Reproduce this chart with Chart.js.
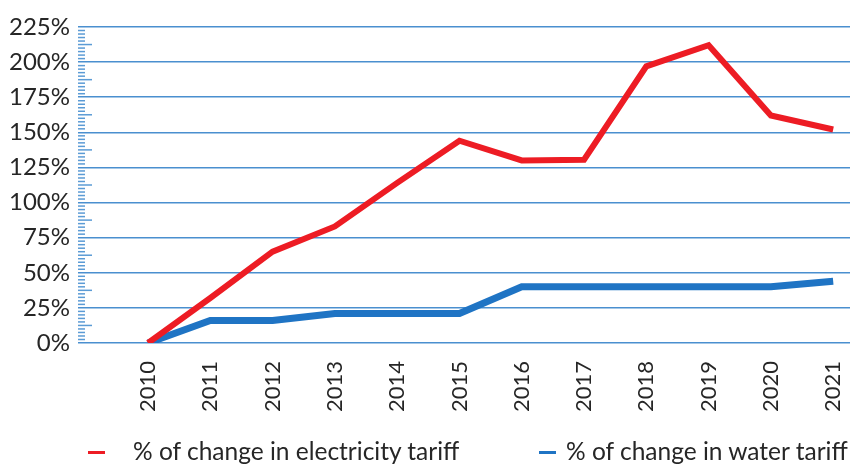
<!DOCTYPE html>
<html>
<head>
<meta charset="utf-8">
<script src="https://cdn.jsdelivr.net/npm/chart.js@4.4.1/dist/chart.umd.min.js"></script>
<style>
    html, body { margin: 0; padding: 0; background: #fff; }
    #wrap { position: relative; width: 852px; height: 466px; }
    #legend { position: absolute; left: 0; top: 436px; width: 852px; height: 30px; font-family: Lato, sans-serif; font-size: 24.5px; color: #262626; }
    .item { position: absolute; top: 0; white-space: nowrap; line-height: 30px; }
    .mark { position: absolute; top: 15px; height: 3px; }
</style>
</head>
<body>
<div id="wrap">
    <canvas id="myChart" width="852" height="466"></canvas>
    <div id="legend"></div>
</div>
<script>
// dane
const years = [2010, 2011, 2012, 2013, 2014, 2015, 2016, 2017, 2018, 2019, 2020, 2021];
const electricity = [0, 32, 65, 83, 114, 144, 130, 130.5, 197, 212, 162, 152];
const water = [0, 16, 16, 21, 21, 21, 40, 40, 40, 40, 40, 44];
const yTicks = [0, 25, 50, 75, 100, 125, 150, 175, 200, 225];
const seriesNames = ['% of change in electricity tariff', '% of change in water tariff'];
const seriesColors = ['#ed1c24', '#1f74c4'];

document.addEventListener('DOMContentLoaded', function() {
    const ctx = document.getElementById('myChart').getContext('2d');

    // drobne kreski podziałki przy osi Y
    const minorTicks = {
        id: 'minorTicks',
        beforeDatasetsDraw(chart) {
            const y = chart.scales.y;
            const left = chart.chartArea.left;
            const c = chart.ctx;
            c.save();
            c.strokeStyle = '#5b9bd5';
            c.lineWidth = 1.5;
            for (let k = 1; k < 90; k++) {
                if (k % 10 === 0) continue;
                const len = (k % 5 === 0) ? 14 : 7;
                const py = y.getPixelForValue(k * 2.5);
                c.beginPath();
                c.moveTo(left, py);
                c.lineTo(left + len, py);
                c.stroke();
            }
            c.restore();
        }
    };

    const data = {
        datasets: [{
            label: seriesNames[0],
            data: electricity.map((v, i) => ({ x: years[i], y: v })),
            borderColor: seriesColors[0],
            backgroundColor: seriesColors[0],
            borderWidth: 6,
            pointRadius: 0,
            tension: 0
        }, {
            label: seriesNames[1],
            data: water.map((v, i) => ({ x: years[i], y: v })),
            borderColor: seriesColors[1],
            backgroundColor: seriesColors[1],
            borderWidth: 7,
            pointRadius: 0,
            tension: 0
        }]
    };

    const options = {
        responsive: false,
        animation: false,
        layout: { padding: { top: 27, right: 2, left: 0, bottom: 50 } },
        plugins: {
            legend: { display: false },
            tooltip: { enabled: false }
        },
        scales: {
            x: {
                type: 'linear',
                min: 2008.876,
                max: 2021.27,
                afterBuildTicks: function(scale) {
                    scale.ticks = years.map(v => ({ value: v }));
                },
                afterFit: function(scale) {
                    scale.height = 73;
                    scale.paddingLeft = 0;
                    scale.paddingRight = 0;
                },
                grid: { display: false },
                border: { display: false },
                ticks: {
                    autoSkip: false,
                    maxRotation: 90,
                    minRotation: 90,
                    padding: 10,
                    color: '#262626',
                    font: { family: 'Lato', size: 22 },
                    callback: v => String(v)
                }
            },
            y: {
                min: 0,
                max: 225,
                afterBuildTicks: function(scale) {
                    scale.ticks = yTicks.map(v => ({ value: v }));
                },
                afterFit: function(scale) {
                    scale.width = 78;
                    scale.paddingTop = 0;
                    scale.paddingBottom = 0;
                },
                grid: { color: '#4a8fcf', lineWidth: 1.5, drawTicks: false },
                border: { display: false },
                ticks: {
                    padding: 8,
                    color: '#262626',
                    font: { family: 'Lato', size: 24 },
                    callback: v => v + '%'
                }
            }
        }
    };

    new Chart(ctx, {
        type: 'line',
        data: data,
        options: options,
        plugins: [minorTicks]
    });

    // legenda pod wykresem
    const legend = document.getElementById('legend');
    const pos = [{ mark: 88, text: 133 }, { mark: 539, text: 566 }];
    seriesNames.forEach(function(name, i) {
        const m = document.createElement('div');
        m.className = 'mark';
        m.style.left = pos[i].mark + 'px';
        m.style.width = '17px';
        m.style.background = seriesColors[i];
        legend.appendChild(m);
        const t = document.createElement('div');
        t.className = 'item';
        t.style.left = pos[i].text + 'px';
        t.textContent = name;
        legend.appendChild(t);
    });
});
</script>
</body>
</html>
